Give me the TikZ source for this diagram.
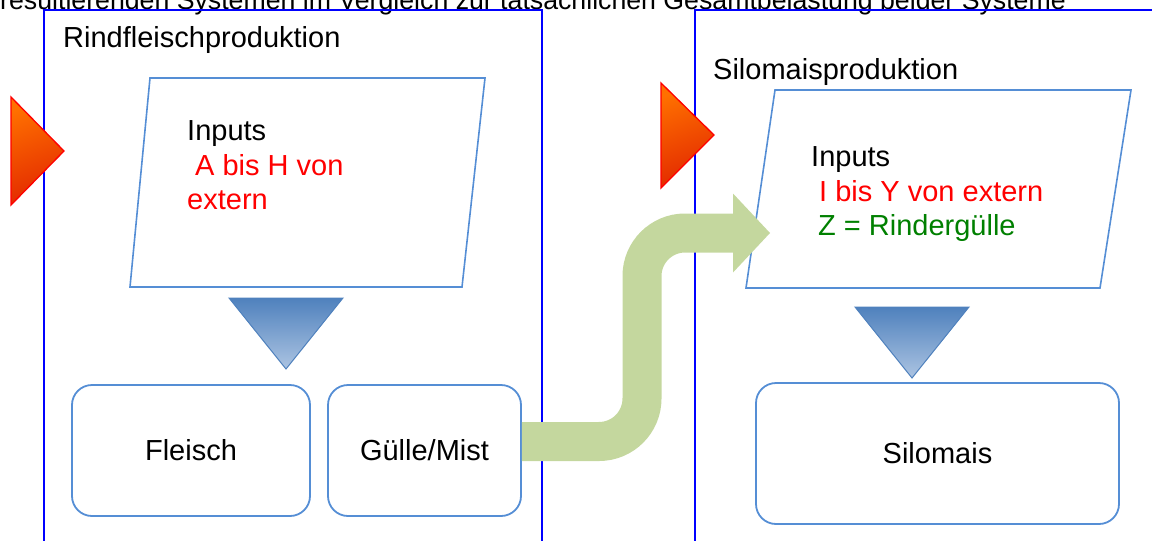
\documentclass[tikz,border=0pt]{standalone}
\usepackage{fontspec}
\setmainfont{Liberation Sans}
\usetikzlibrary{calc}
\definecolor{frameblue}{RGB}{0,0,255}
\definecolor{boxblue}{RGB}{85,142,213}
\definecolor{tridark}{RGB}{79,129,189}
\definecolor{trilight}{RGB}{172,196,226}
\definecolor{arrowgreen}{RGB}{196,215,158}
\definecolor{orangeA}{RGB}{255,112,0}
\definecolor{orangeB}{RGB}{226,40,0}
\definecolor{txtred}{RGB}{255,0,0}
\definecolor{txtgreen}{RGB}{0,128,0}
\begin{document}
\begin{tikzpicture}[x=1pt,y=-1pt,
  frame/.style={draw=frameblue,line width=2pt},
  para/.style={draw=boxblue,line width=1.6pt},
  outbox/.style={draw=boxblue,line width=1.8pt,rounded corners=20pt,
    font=\fontsize{29}{35}\selectfont},
  lbl/.style={font=\fontsize{29}{35}\selectfont,inner sep=0pt,anchor=base west},
  downtri/.style={draw=tridark,line width=1pt,top color=tridark,bottom color=trilight},
  marker/.style={draw=red,line width=1.3pt,top color=orangeA,bottom color=orangeB,shading angle=20},
  flow/.style={arrowgreen,line width=39pt,rounded corners=43pt}
]
\useasboundingbox (0,0) rectangle (1152,541);

% caption (cut at top)
\node[font=\fontsize{26.7}{32}\selectfont,inner sep=0pt,anchor=base east] (caption) at (1066,9)
  {resultierenden Systemen im Vergleich zur tatsächlichen Gesamtbelastung beider Systeme};

% system frames
\draw[frame] (44,560) -- (44,10) -- (542,10) -- (542,560);
\draw[frame] (695,560) -- (695,10) -- (1170,10);

% titles
\node[lbl] (t1) at (63,47) {Rindfleischproduktion};
\node[lbl] (t2) at (713,79) {Silomaisproduktion};

% input parallelograms
\draw[para] (150,78) -- (485,78) -- (462,287) -- (130,287) -- cycle;
\draw[para] (775,90) -- (1131,90) -- (1100,288) -- (746,288) -- cycle;

% inputs text
\node[lbl] (in1) at (187,140) {Inputs};
\node[lbl,text=txtred] (in1a) at (195,175) {A bis H von};
\node[lbl,text=txtred] (in1b) at (187,209) {extern};
\node[lbl] (in2) at (811,166) {Inputs};
\node[lbl,text=txtred] (in2a) at (819,201) {I bis Y von extern};
\node[lbl,text=txtgreen] (in2b) at (818,235) {Z = Rindergülle};

% orange markers
\shadedraw[marker] (11,97) -- (64,151) -- (11,205) -- cycle;
\shadedraw[marker] (661,83) -- (714,135) -- (661,188) -- cycle;

% down triangles
\shadedraw[downtri] (229,298) -- (343,298) -- (286,369) -- cycle;
\shadedraw[downtri] (855,307) -- (969,307) -- (912,378) -- cycle;

% output boxes
\node[outbox,minimum width=238pt,minimum height=131pt] (fleisch) at (191,450.5) {Fleisch};
\node[outbox,minimum width=193pt,minimum height=131pt] (guelle) at (424.5,450.5) {Gülle/Mist};
\node[outbox,minimum width=363pt,minimum height=141pt] (silomais) at (937.5,453.5) {Silomais};

% manure flow arrow
\coordinate (aend) at (733,233);
\draw[flow] ($(guelle.east)+(0,-9)$) -- (642,441.5) -- (642,233) -- (aend);
\fill[arrowgreen] ($(aend)+(0,-39.5)$) -- ($(aend)+(37,0)$) -- ($(aend)+(0,39.5)$) -- cycle;
\end{tikzpicture}
\end{document}
